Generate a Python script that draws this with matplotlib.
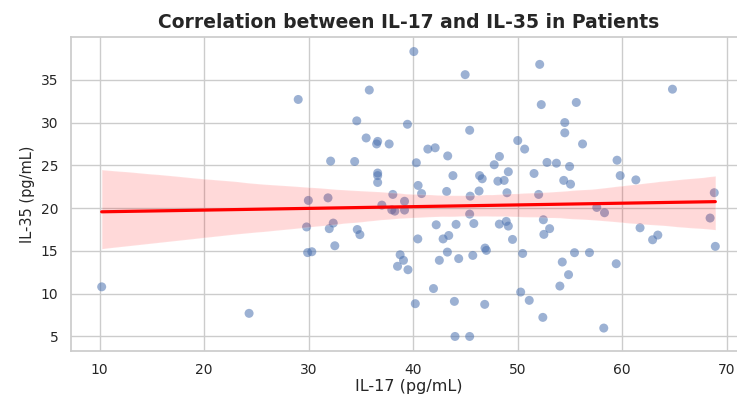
import matplotlib
matplotlib.use("Agg")
import matplotlib.pyplot as plt
import seaborn as sns
import numpy as np
import pandas as pd

il17 = [10.2, 24.3, 29.0, 35.8, 34.6, 35.5, 36.6, 36.5, 37.7, 32.1,
        34.4, 36.6, 36.6, 36.6, 38.05, 29.97, 31.85, 37.0, 37.95, 38.24,
        39.17, 39.17, 29.8, 32.35, 31.97, 34.65, 34.9, 32.5, 29.9, 30.3,
        38.75, 39.07, 38.5, 39.5, 40.06, 44.97, 39.45, 45.4, 41.4, 42.1,
        43.3, 40.3, 43.8, 40.47, 40.8, 43.2, 40.44, 42.2, 42.86, 43.4,
        44.1, 45.8, 45.4, 45.45, 46.3, 46.35, 46.6, 48.1, 48.7, 49.1,
        47.75, 48.25, 48.97, 48.24, 48.9, 49.1, 49.5, 43.27, 42.5, 44.35,
        45.7, 46.87, 47.0, 41.94, 40.2, 43.94, 46.84, 44.0, 45.4, 52.1,
        52.25, 55.6, 64.8, 54.5, 54.5, 50.0, 50.66, 56.2, 52.8, 53.7,
        54.96, 59.5, 59.8, 61.3, 51.56, 54.4, 55.05, 52.0, 68.8, 57.56,
        58.3, 68.4, 52.45, 53.05, 52.5, 61.7, 63.4, 62.9, 68.9, 50.47,
        55.43, 56.86, 54.26, 59.42, 54.86, 54.03, 50.28, 51.1, 52.4, 58.23]

il35 = [10.8, 7.7, 32.7, 33.8, 30.2, 28.2, 27.8, 27.5, 27.5, 25.5,
        25.45, 24.1, 23.8, 23.0, 21.6, 20.9, 21.2, 20.35, 19.8, 19.65,
        19.77, 20.8, 17.8, 18.25, 17.6, 17.5, 16.9, 15.6, 14.8, 14.9,
        14.55, 13.9, 13.2, 12.8, 38.3, 35.6, 29.8, 29.1, 26.9, 27.05,
        26.1, 25.3, 23.8, 22.65, 21.7, 21.95, 16.4, 18.05, 16.4, 16.8,
        18.1, 18.2, 19.3, 21.4, 22.0, 23.8, 23.43, 23.15, 23.24, 24.25,
        25.07, 26.04, 21.8, 18.13, 18.45, 17.9, 16.34, 14.86, 13.9, 14.1,
        14.47, 15.33, 15.06, 10.6, 8.83, 9.1, 8.75, 5.0, 5.0, 36.8,
        32.1, 32.35, 33.9, 30.0, 28.8, 27.9, 26.9, 27.5, 25.34, 25.25,
        24.87, 25.6, 23.8, 23.3, 24.05, 23.24, 22.8, 21.6, 21.8, 20.08,
        19.46, 18.84, 18.64, 17.6, 16.93, 17.7, 16.85, 16.3, 15.53, 14.7,
        14.79, 14.8, 13.7, 13.5, 12.22, 10.89, 10.19, 9.22, 7.23, 5.98]

title = "Correlation between IL-17 and IL-35 in Patients"
xlabel = "IL-17 (pg/mL)"
ylabel = "IL-35 (pg/mL)"

sns.set_theme(style="whitegrid")
plt.rcParams['font.family'] = ['DejaVu Sans']

df = pd.DataFrame({"IL17": il17, "IL35": il35})

fig = plt.figure(figsize=(7.37, 3.96), dpi=100)
ax = fig.add_axes([71/737, 1 - 350.7/396, (746 - 71)/737, (350.7 - 37.3)/396])

sns.regplot(data=df, x="IL17", y="IL35", ax=ax, seed=3,
            scatter_kws={"color": "#4c72b0", "alpha": 0.55, "s": 42, "edgecolor": "none"},
            line_kws={"color": "red", "linewidth": 2.3})

ax.set_title(title, fontsize=13.5, fontweight="bold", color="#262626", pad=7)
ax.set_xlabel(xlabel, fontsize=11.5, color="#262626", labelpad=1)
ax.set_ylabel(ylabel, fontsize=10.5, color="#262626", labelpad=4)
ax.tick_params(labelsize=10, colors="#262626", pad=3)
ax.set_xticks([10, 20, 30, 40, 50, 60, 70])
ax.set_yticks([5, 10, 15, 20, 25, 30, 35])

fig.savefig("out.png", dpi=100)
